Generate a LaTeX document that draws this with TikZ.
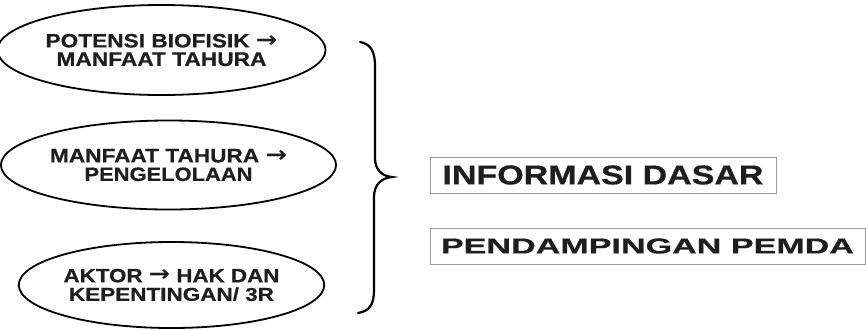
\documentclass[tikz,border=0pt]{standalone}
\usepackage{fontspec}
\setmainfont{Liberation Sans}[BoldFeatures={FakeBold=0.5}]
\newfontfamily\arrfont{DejaVu Sans}
\usepackage{graphicx}
\usetikzlibrary{shapes.geometric}
\definecolor{txt}{HTML}{1E1E1E}
\definecolor{boxgray}{HTML}{9A9A9A}
\renewcommand{\arraystretch}{0}
\newcommand{\fitline}[3]{\resizebox{#1pt}{#2pt}{\bfseries #3}}
\newcommand{\twolines}[2]{\begin{tabular}{@{}c@{}}#1\rule[-5pt]{0pt}{5pt}\\#2\end{tabular}}
\newcommand{\arr}{\raisebox{0.02em}{\resizebox{0.95em}{0.62em}{\arrfont →}}}
\begin{document}
\begin{tikzpicture}[x=1pt,y=-1pt,
  oval/.style={ellipse, draw=black, line width=1.8pt, inner sep=0pt, text=txt},
  infobox/.style={rectangle, draw=boxgray, line width=0.9pt, inner sep=0pt, text=txt},
  bracestyle/.style={draw=black, line width=2.2pt, line cap=round}]
\useasboundingbox (0,0) rectangle (866,330);
\node[oval, minimum width=307pt, minimum height=90pt] (e1) at (161.5,50)
  {\twolines{\fitline{232}{13.5}{POTENSI BIOFISIK \arr}}{\fitline{210}{13.5}{MANFAAT TAHURA}}};
\node[oval, minimum width=307pt, minimum height=89pt] (e2) at (168.5,165)
  {\twolines{\fitline{237}{13.5}{MANFAAT TAHURA \arr}}{\fitline{168}{13.5}{PENGELOLAAN}}};
\node[oval, minimum width=297pt, minimum height=86pt] (e3) at (171.5,285)
  {\twolines{\fitline{216}{13.5}{AKTOR \arr{} HAK DAN}}{\fitline{205}{13.5}{KEPENTINGAN/ 3R}}};
\node[infobox, minimum width=346pt, minimum height=36pt] (b1) at (603,175)
  {\fitline{321}{19}{INFORMASI DASAR}};
\node[infobox, minimum width=435pt, minimum height=36pt] (b2) at (647.5,246)
  {\fitline{413}{15}{PENDAMPINGAN PEMDA}};
\coordinate (btop) at (360,42);
\coordinate (btip) at (392,177);
\coordinate (bbot) at (358,313);
\draw[bracestyle] (btop) .. controls (371,44) and (375,52) .. (375,66) -- (375,158)
  .. controls (375,170) and (382,176) .. (btip)
  .. controls (381,178) and (374,185) .. (374,197) -- (374,290)
  .. controls (374,304) and (370,311) .. (bbot);
\end{tikzpicture}
\end{document}
